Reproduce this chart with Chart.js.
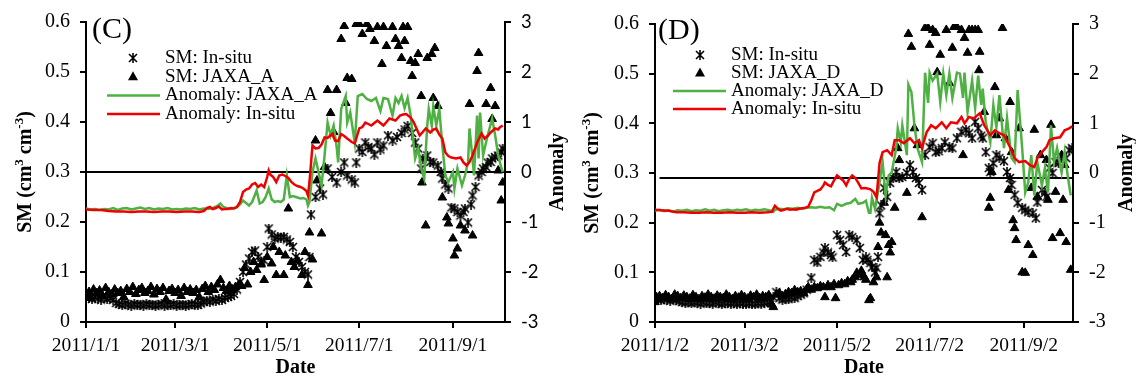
<!DOCTYPE html>
<html>
<head>
<meta charset="utf-8">
<script src="https://cdn.jsdelivr.net/npm/chart.js@4/dist/chart.umd.min.js"></script>
<style>
  body { margin: 0; background: #fff; }
  .wrap { display: flex; width: 1136px; height: 380px; }
  canvas { display: block; }
</style>
</head>
<body>
<div class="wrap">
  <canvas id="chartC" width="568" height="380"></canvas>
  <canvas id="chartD" width="568" height="380"></canvas>
</div>
<script>
// x values are day numbers counted from 2011/1/1 (= 0)

// ---------- panel (C) ----------
const tickDaysC = [0, 59, 120, 181, 243];
const tickLabelsC = ["2011/1/1", "2011/3/1", "2011/5/1", "2011/7/1", "2011/9/1"];
const namesC = ["SM: In-situ", "SM: JAXA_A", "Anomaly: JAXA_A", "Anomaly: In-situ"];
const zeroLineC = 0.3;

// [day, SM]
const insituC = [
  [0,0.05],[2,0.048],[4,0.046],[6,0.05],[8,0.047],[10,0.045],[12,0.049],[14,0.046],[16,0.048],[18,0.044],
  [20,0.038],[22,0.036],[24,0.034],[26,0.037],[28,0.035],[30,0.033],[32,0.036],[34,0.034],[36,0.035],[38,0.033],
  [40,0.036],[42,0.034],[44,0.035],[46,0.033],[48,0.034],[50,0.036],[52,0.033],[54,0.035],[56,0.034],[58,0.036],
  [60,0.033],[62,0.034],[64,0.035],[66,0.033],[68,0.034],[70,0.036],[72,0.035],[74,0.034],[76,0.037],
  [78,0.04],[80,0.043],[82,0.041],[84,0.045],[86,0.042],[88,0.046],[90,0.044],[92,0.048],[94,0.05],[96,0.052],
  [98,0.056],[100,0.065],[102,0.08],[104,0.1],[106,0.115],[108,0.127],[110,0.14],[112,0.143],[114,0.13],[116,0.12],
  [118,0.123],[120,0.15],[121,0.187],[123,0.175],[125,0.167],[127,0.17],[129,0.169],[131,0.17],[133,0.165],[135,0.16],
  [137,0.15],[139,0.13],[141,0.12],[143,0.11],[145,0.1],[147,0.095],[148,0.13],[149,0.215],[152,0.25],[155,0.267],
  [157,0.255],[160,0.307],[163,0.29],[166,0.279],[169,0.3],[171,0.319],[173,0.293],[176,0.285],[178,0.279],[179,0.319],
  [181,0.347],[183,0.34],[185,0.359],[187,0.35],[189,0.347],[191,0.335],[193,0.359],[195,0.345],[197,0.353],[200,0.373],
  [203,0.363],[206,0.37],[209,0.378],[211,0.385],[213,0.392],[216,0.378],[218,0.359],[220,0.347],[222,0.307],[223,0.327],
  [226,0.333],[228,0.32],[230,0.319],[233,0.313],[235,0.3],[236,0.287],[238,0.275],[240,0.267],[242,0.229],[244,0.227],
  [246,0.22],[248,0.213],[250,0.22],[251,0.227],[253,0.199],[255,0.235],[256,0.253],[258,0.27],[260,0.293],[262,0.3],
  [263,0.307],[265,0.31],[266,0.319],[268,0.32],[269,0.327],[271,0.33],[273,0.333],[275,0.34],[276,0.347]
];

const jaxaC = [
  [0,0.055],[2,0.06],[3,0.048],[5,0.065],[7,0.058],[9,0.063],[11,0.052],[13,0.068],[15,0.06],[17,0.055],
  [19,0.065],[21,0.058],[23,0.062],[25,0.05],[27,0.066],[29,0.06],[31,0.07],[33,0.056],[35,0.064],[37,0.068],
  [39,0.058],[41,0.062],[43,0.07],[45,0.055],[47,0.066],[49,0.06],[51,0.068],[53,0.045],[55,0.062],[57,0.066],
  [59,0.058],[61,0.064],[63,0.052],[65,0.068],[67,0.06],[69,0.065],[71,0.058],[73,0.064],[75,0.05],[77,0.066],
  [79,0.072],[81,0.06],[83,0.07],[85,0.064],[87,0.075],[89,0.084],[91,0.068],[93,0.062],[95,0.072],[97,0.065],
  [99,0.07],[101,0.074],[103,0.072],[105,0.108],[107,0.075],[109,0.1],[111,0.12],[113,0.104],[116,0.115],[118,0.084],
  [120,0.13],[123,0.117],[124,0.15],[126,0.094],[128,0.14],[131,0.094],[132,0.133],[134,0.227],[136,0.12],[138,0.11],
  [140,0.123],[143,0.094],[145,0.14],[147,0.074],[148,0.179],[150,0.125],[152,0.363],[153,0.283],[156,0.177],[158,0.31],
  [160,0.464],[162,0.418],[164,0.38],[166,0.464],[169,0.566],[171,0.592],[172,0.438],[173,0.488],[176,0.486],[179,0.596],
  [181,0.596],[183,0.576],[186,0.596],[188,0.586],[191,0.562],[193,0.59],[196,0.516],[197,0.59],[199,0.552],[203,0.59],
  [205,0.566],[207,0.552],[209,0.528],[210,0.59],[211,0.562],[213,0.59],[215,0.522],[216,0.492],[218,0.518],[220,0.536],
  [222,0.452],[222.5,0.279],[225,0.193],[226,0.528],[229,0.536],[230,0.448],[231,0.548],[233,0.432],[236,0.249],[239,0.209],
  [240,0.197],[243,0.167],[244,0.133],[246,0.147],[248,0.193],[251,0.183],[254,0.436],[256,0.173],[259,0.502],[260,0.538],
  [265,0.436],[268,0.468],[269,0.406],[271,0.432],[273,0.303],[275,0.243],[276,0.279]
];

// [day, anomaly]
const anomInsituC = [
  [0,-0.75],[5,-0.76],[10,-0.76],[15,-0.78],[20,-0.79],[25,-0.79],[30,-0.8],[35,-0.79],[40,-0.79],[45,-0.8],
  [50,-0.79],[55,-0.79],[60,-0.8],[65,-0.79],[70,-0.79],[75,-0.8],[78,-0.78],[80,-0.72],[82,-0.7],[84,-0.74],
  [86,-0.72],[88,-0.69],[90,-0.75],[92,-0.74],[94,-0.74],[96,-0.72],[98,-0.73],[100,-0.7],[102,-0.6],[104,-0.4],
  [106,-0.35],[108,-0.33],[110,-0.25],[112,-0.22],[114,-0.3],[116,-0.25],[118,-0.3],[120,-0.1],[121,0.03],[122,-0.05],
  [124,-0.1],[126,-0.2],[128,-0.07],[130,-0.05],[132,-0.08],[134,-0.12],[136,-0.2],[138,-0.25],[140,-0.28],[142,-0.3],
  [144,-0.33],[146,-0.38],[147,-0.47],[148,-0.2],[150,0.53],[152,0.47],[154,0.48],[156,0.55],[158,0.69],[160,0.68],
  [163,0.76],[165,0.63],[167,0.62],[169,0.76],[171,0.72],[173,0.67],[176,0.6],[178,0.57],[181,0.87],[183,0.9],
  [185,0.99],[187,0.96],[189,0.93],[191,0.98],[193,1.03],[195,0.98],[197,0.93],[199,1.0],[201,1.07],[203,1.05],
  [205,1.03],[208,1.13],[210,1.15],[212,1.16],[215,1.09],[217,1.0],[218,0.93],[221,0.73],[223,0.8],[225,0.87],
  [228,0.79],[230,0.85],[232,0.87],[234,0.75],[236,0.67],[238,0.39],[240,0.32],[242,0.29],[245,0.27],[248,0.29],
  [250,0.19],[252,0.13],[254,0.2],[256,0.33],[258,0.5],[259,0.59],[262,0.77],[264,0.67],[266,0.72],[268,0.79],
  [271,0.87],[273,0.85],[274,0.89],[276,0.93]
];

const anomJaxaC = [
  [0,-0.73],[3,-0.75],[6,-0.74],[9,-0.76],[12,-0.74],[15,-0.75],[18,-0.72],[21,-0.76],[24,-0.73],[27,-0.72],
  [30,-0.75],[33,-0.73],[36,-0.71],[39,-0.74],[42,-0.72],[45,-0.75],[48,-0.73],[51,-0.74],[54,-0.72],[57,-0.75],
  [60,-0.74],[63,-0.75],[66,-0.73],[69,-0.74],[72,-0.72],[75,-0.75],[78,-0.73],[81,-0.74],[84,-0.72],[87,-0.68],
  [89,-0.63],[91,-0.7],[93,-0.72],[96,-0.74],[98,-0.72],[100,-0.7],[102,-0.65],[104,-0.57],[106,-0.62],[108,-0.67],
  [110,-0.6],[112,-0.45],[113,-0.37],[115,-0.63],[117,-0.6],[119,-0.5],[121,-0.33],[123,-0.55],[125,-0.6],[127,-0.58],
  [129,-0.6],[131,-0.55],[133,-0.07],[135,-0.5],[137,-0.48],[139,-0.5],[142,-0.53],[144,-0.52],[146,-0.55],[147,-0.67],
  [148,-0.6],[150,0],[152,0.27],[154,0],[156,-0.27],[158,0.33],[160,0.99],[162,0.73],[164,0.93],[166,0.5],
  [167,0.19],[169,1.26],[172,1.52],[173,0.99],[175,1.19],[178,0.59],[180,1.52],[183,1.56],[186,1.46],[189,1.42],
  [192,1.48],[195,1.22],[197,1.48],[200,1.46],[203,1.13],[205,1.48],[207,1.38],[209,1.52],[211,1.28],[213,1.48],
  [215,1.13],[218,0.27],[220,0.47],[222,0.07],[224,-0.13],[226,0.93],[227,1.26],[229,0.93],[230,1.32],[232,0.93],
  [234,1.26],[236,0.53],[238,-0.07],[240,-0.2],[243,0],[244,-0.33],[246,0.07],[249,-0.27],[251,-0.07],[253,0.19],
  [254,0.87],[256,0.27],[257,-0.07],[259,1.13],[260,0.27],[261,1.19],[263,0.33],[266,0.73],[269,1.07],[271,0.73],
  [273,0.33],[275,0.09],[276,0]
];

// ---------- panel (D) ----------
const tickDaysD = [1, 60, 121, 182, 244];
const tickLabelsD = ["2011/1/2", "2011/3/2", "2011/5/2", "2011/7/2", "2011/9/2"];
const namesD = ["SM: In-situ", "SM: JAXA_D", "Anomaly: JAXA_D", "Anomaly: In-situ"];
const zeroLineD = 0.29;

const insituD = [
  [1,0.048],[3,0.046],[5,0.044],[7,0.047],[9,0.045],[11,0.043],[13,0.046],[15,0.044],[17,0.042],[19,0.04],
  [21,0.039],[23,0.041],[25,0.038],[27,0.04],[29,0.039],[31,0.037],[33,0.04],[35,0.038],[37,0.039],[39,0.037],
  [41,0.04],[43,0.038],[45,0.036],[47,0.039],[49,0.038],[51,0.037],[53,0.039],[55,0.036],[57,0.038],[59,0.037],
  [61,0.036],[63,0.038],[65,0.037],[67,0.036],[69,0.038],[71,0.037],[73,0.039],[75,0.04],[77,0.042],[79,0.05],
  [81,0.06],[83,0.048],[85,0.045],[87,0.047],[89,0.046],[91,0.05],[93,0.048],[95,0.052],[97,0.055],[99,0.058],
  [101,0.065],[104,0.089],[106,0.125],[108,0.12],[110,0.131],[112,0.14],[113,0.149],[115,0.14],[117,0.135],[118,0.13],
  [121,0.175],[123,0.165],[125,0.155],[127,0.141],[129,0.175],[131,0.171],[134,0.165],[136,0.149],[138,0.125],[140,0.13],
  [141,0.125],[143,0.119],[144,0.11],[146,0.1],[147,0.109],[148,0.131],[149,0.219],[150,0.235],[152,0.27],[154,0.252],
  [156,0.28],[158,0.29],[160,0.302],[162,0.29],[164,0.292],[167,0.3],[169,0.316],[171,0.302],[173,0.29],[175,0.28],
  [177,0.266],[179,0.336],[182,0.352],[184,0.36],[186,0.342],[188,0.344],[190,0.35],[192,0.362],[195,0.352],[197,0.35],
  [200,0.37],[203,0.383],[206,0.387],[208,0.38],[210,0.37],[212,0.403],[214,0.39],[216,0.375],[217,0.37],[219,0.342],
  [221,0.31],[222,0.302],[224,0.32],[226,0.336],[228,0.33],[231,0.324],[233,0.302],[235,0.29],[236,0.276],[238,0.256],
  [240,0.24],[243,0.23],[245,0.225],[247,0.221],[250,0.219],[252,0.209],[253,0.241],[256,0.266],[258,0.26],[259,0.252],
  [261,0.31],[263,0.3],[265,0.322],[267,0.32],[269,0.33],[272,0.33],[274,0.346],[276,0.35]
];

const jaxaD = [
  [1,0.04],[2,0.05],[4,0.052],[6,0.048],[8,0.054],[10,0.05],[12,0.046],[14,0.055],[16,0.052],[18,0.048],
  [20,0.053],[22,0.05],[24,0.047],[26,0.054],[28,0.05],[30,0.046],[32,0.052],[34,0.049],[36,0.055],[38,0.05],
  [40,0.047],[42,0.053],[44,0.05],[46,0.048],[48,0.055],[50,0.05],[52,0.046],[54,0.052],[56,0.049],[58,0.054],
  [60,0.05],[62,0.047],[64,0.053],[66,0.05],[68,0.055],[70,0.048],[72,0.052],[74,0.05],[76,0.054],[78,0.035],
  [79,0.03],[81,0.055],[83,0.058],[85,0.052],[87,0.056],[89,0.06],[91,0.058],[93,0.064],[95,0.06],[97,0.062],
  [99,0.058],[101,0.066],[102,0.07],[104,0.065],[106,0.07],[108,0.068],[110,0.072],[112,0.07],[113,0.05],[115,0.074],
  [117,0.07],[119,0.076],[120,0.048],[122,0.074],[124,0.078],[126,0.076],[128,0.082],[130,0.08],[131,0.085],[133,0.09],
  [134,0.099],[136,0.095],[137,0.103],[139,0.09],[140,0.085],[142,0.044],[143,0.048],[145,0.08],[147,0.09],[148,0.151],
  [149,0.2],[150,0.18],[152,0.24],[153,0.175],[154,0.09],[155,0.155],[156,0.14],[157,0.161],[159,0.23],[161,0.35],
  [162,0.326],[167,0.26],[168,0.58],[170,0.554],[172,0.39],[174,0.356],[177,0.211],[179,0.592],[181,0.592],[182,0.558],
  [184,0.588],[186,0.582],[187,0.503],[189,0.538],[193,0.588],[195,0.481],[197,0.552],[198,0.594],[200,0.594],[203,0.588],
  [204,0.336],[205,0.572],[207,0.542],[208,0.588],[210,0.588],[212,0.588],[214,0.588],[214.5,0.507],[215,0.544],[218,0.423],
  [221,0.23],[222,0.25],[223,0.302],[225,0.473],[226,0.376],[228,0.41],[230,0.592],[232,0.37],[234,0.266],[235,0.443],
  [236,0.342],[237,0.205],[238,0.189],[239,0.165],[241,0.39],[243,0.1],[245,0.099],[247,0.155],[249,0.27],[250,0.135],
  [251,0.387],[253,0.252],[255,0.336],[259,0.326],[260,0.246],[262,0.397],[263,0.169],[265,0.262],[268,0.179],[269,0.336],
  [270,0.246],[271,0.316],[272,0.161],[275,0.105]
];

const anomInsituD = [
  [1,-0.74],[5,-0.75],[10,-0.76],[15,-0.79],[20,-0.79],[25,-0.8],[30,-0.8],[35,-0.79],[40,-0.8],[45,-0.8],
  [50,-0.79],[55,-0.8],[60,-0.8],[65,-0.79],[70,-0.8],[75,-0.79],[78,-0.78],[80,-0.66],[82,-0.72],[84,-0.76],
  [86,-0.74],[88,-0.72],[90,-0.74],[92,-0.73],[94,-0.74],[96,-0.72],[98,-0.71],[100,-0.7],[102,-0.68],[104,-0.55],
  [106,-0.39],[108,-0.36],[110,-0.33],[112,-0.25],[113,-0.19],[115,-0.24],[117,-0.27],[119,-0.15],[121,-0.05],[123,-0.1],
  [125,-0.15],[127,-0.25],[129,-0.12],[131,-0.05],[133,-0.1],[135,-0.2],[137,-0.31],[139,-0.3],[141,-0.31],[143,-0.33],
  [145,-0.38],[147,-0.49],[149,0.2],[151,0.42],[154,0.46],[157,0.36],[159,0.66],[162,0.66],[165,0.6],[167,0.65],
  [169,0.7],[172,0.6],[175,0.66],[177,0.5],[180,0.82],[183,0.96],[186,0.9],[190,1.02],[193,0.9],[196,1.02],
  [200,1.0],[203,1.13],[205,1.0],[208,1.13],[211,1.1],[215,1.2],[218,0.96],[222,0.76],[225,0.86],[228,0.8],
  [231,0.76],[235,0.52],[238,0.3],[241,0.22],[245,0.24],[248,0.16],[251,0.12],[253,0.3],[256,0.42],[259,0.52],
  [261,0.66],[264,0.7],[268,0.72],[271,0.86],[274,0.9],[276,0.94]
];

const anomJaxaD = [
  [1,-0.76],[4,-0.74],[7,-0.77],[10,-0.75],[13,-0.78],[16,-0.75],[19,-0.76],[22,-0.74],[25,-0.77],[28,-0.75],
  [31,-0.76],[34,-0.73],[37,-0.76],[40,-0.74],[43,-0.77],[46,-0.75],[49,-0.74],[52,-0.76],[55,-0.74],[58,-0.75],
  [61,-0.73],[64,-0.76],[67,-0.74],[70,-0.75],[73,-0.73],[76,-0.75],[79,-0.78],[80,-0.74],[83,-0.72],[86,-0.73],
  [89,-0.71],[92,-0.72],[95,-0.7],[98,-0.72],[101,-0.7],[104,-0.69],[107,-0.7],[110,-0.68],[113,-0.7],[116,-0.69],
  [119,-0.75],[121,-0.62],[124,-0.66],[127,-0.62],[130,-0.6],[133,-0.52],[135,-0.62],[138,-0.6],[140,-0.56],[142,-0.8],
  [143,-0.8],[144,-0.5],[146,-0.72],[149,-0.19],[151,0.22],[153,-0.45],[155,-0.05],[157,0.01],[160,0.5],[161,0.9],
  [163,0.62],[164,0.96],[167,0.36],[168,1.78],[170,1.63],[172,0.96],[174,0.5],[177,0.22],[179,2.02],[181,1.41],
  [182,2.02],[184,1.86],[187,2.0],[189,1.43],[191,2.0],[193,1.57],[195,2.0],[197,1.51],[200,2.02],[202,2.0],
  [204,1.51],[205,2.02],[207,1.23],[210,1.86],[212,1.31],[214,1.96],[216,1.37],[217,1.7],[219,1.02],[222,0.62],
  [224,1.37],[226,0.92],[228,1.57],[230,0.86],[231,0.5],[233,1.11],[236,0.3],[238,0.22],[240,1.67],[243,0.5],
  [245,-0.39],[247,-0.19],[249,0.36],[251,-0.45],[253,0.22],[256,-0.25],[258,0.1],[260,-0.39],[262,0.96],[264,0.22],
  [266,0.5],[269,0.01],[271,0.42],[273,-0.05],[275,-0.45]
];

const SERIF = '"Liberation Serif", "Times New Roman", serif';
const GREEN = "#4fb043";
const RED = "#ee0000";

// excel style star marker (x + vertical bar)
const STAR = (() => {
  const c = document.createElement("canvas");
  c.width = 10; c.height = 10;
  const g = c.getContext("2d");
  g.strokeStyle = "#000";
  g.lineWidth = 1.6;
  g.beginPath();
  g.moveTo(1, 1); g.lineTo(9, 9);
  g.moveTo(9, 1); g.lineTo(1, 9);
  g.moveTo(5, 0); g.lineTo(5, 10);
  g.stroke();
  return c;
})();

function drawTri(ctx, x, y) {
  ctx.beginPath();
  ctx.moveTo(x, y - 5.5);
  ctx.lineTo(x + 5, y + 3.5);
  ctx.lineTo(x - 5, y + 3.5);
  ctx.closePath();
  ctx.fill();
}

// rotated (-90deg) title, parts = [text, isSup]
function drawVTitle(ctx, parts, cx, cy) {
  ctx.save();
  ctx.translate(cx, cy);
  ctx.rotate(-Math.PI / 2);
  ctx.textBaseline = "alphabetic";
  ctx.textAlign = "left";
  let total = 0;
  parts.forEach(([t, sup]) => {
    ctx.font = (sup ? "bold 13px " : "bold 20px ") + SERIF;
    total += ctx.measureText(t).width;
  });
  let x = -total / 2;
  parts.forEach(([t, sup]) => {
    ctx.font = (sup ? "bold 13px " : "bold 20px ") + SERIF;
    ctx.fillText(t, x, sup ? -1 : 7);
    x += ctx.measureText(t).width;
  });
  ctx.restore();
}

const decor = {
  id: "decor",
  afterDraw(chart, args, o) {
    const { ctx, chartArea: a } = chart;
    ctx.save();
    ctx.fillStyle = "#000";
    ctx.textAlign = "left";
    ctx.textBaseline = "alphabetic";
    ctx.font = "30px " + SERIF;
    ctx.fillText(o.panel, a.left + o.panelDx, o.panelY);

    // legend
    ctx.font = "19px " + SERIF;
    ctx.textBaseline = "middle";
    o.names.forEach((name, i) => {
      const y = a.top + o.legTop + i * o.legGap;
      if (i === 0) {
        ctx.drawImage(STAR, a.left + o.markX - 5, y - 5);
      } else if (i === 1) {
        drawTri(ctx, a.left + o.markX, y);
      } else {
        ctx.strokeStyle = i === 2 ? GREEN : RED;
        ctx.lineWidth = 2.5;
        ctx.beginPath();
        ctx.moveTo(a.left + o.lineX0, y);
        ctx.lineTo(a.left + o.lineX1, y);
        ctx.stroke();
      }
      ctx.fillText(name, a.left + o.textX, y);
    });

    const mid = (a.top + a.bottom) / 2;
    drawVTitle(ctx, [["SM (cm", false], ["3", true], [" cm", false], ["-3", true], [")", false]], o.leftTitleX, mid);
    drawVTitle(ctx, [["Anomaly", false]], o.rightTitleX, mid);
    ctx.restore();
  }
};

function buildChart(el, p) {
  const xy = (pairs) => pairs.map(([d, v]) => ({ x: d, y: v }));
  const axisGrid = { drawOnChartArea: false, color: "#000", lineWidth: 2, tickLength: 6 };
  const axisBorder = { color: "#000", width: 2 };
  return new Chart(el, {
    type: "line",
    data: {
      datasets: [
        { label: p.names[3], data: xy(p.anomInsitu), yAxisID: "y2", borderColor: RED, borderWidth: 2.5, pointRadius: 0, order: 0 },
        { label: p.names[2], data: xy(p.anomJaxa), yAxisID: "y2", borderColor: GREEN, borderWidth: 2.5, pointRadius: 0, order: 1 },
        { label: "zero", data: [{ x: p.zeroFrom, y: p.zeroLine }, { x: p.xMax, y: p.zeroLine }], yAxisID: "y",
          borderColor: "#000", borderWidth: 2, pointRadius: 0, order: 2 },
        { label: p.names[0], data: xy(p.insitu), yAxisID: "y", showLine: false, pointStyle: STAR, pointRadius: 5, order: 3 },
        { label: p.names[1], data: xy(p.jaxa), yAxisID: "y", showLine: false, pointStyle: "triangle", pointRadius: 5,
          pointBackgroundColor: "#000", pointBorderColor: "#000", pointBorderWidth: 1, order: 4 }
      ]
    },
    options: {
      responsive: false,
      animation: false,
      events: [],
      devicePixelRatio: 1,
      layout: { padding: { top: p.top, left: 0, right: 0, bottom: 0 } },
      plugins: {
        legend: { display: false },
        tooltip: { enabled: false },
        decor: p.decor
      },
      scales: {
        x: {
          type: "linear", min: p.xMin, max: p.xMax,
          afterBuildTicks: (s) => { s.ticks = p.tickDays.map((v) => ({ value: v })); },
          afterFit: (s) => { s.height = 58; },
          grid: axisGrid, border: axisBorder,
          ticks: { autoSkip: false, maxRotation: 0, padding: 6, color: "#000",
            font: { family: SERIF, size: 19.5 }, callback: (v, i) => p.tickLabels[i] },
          title: { display: true, text: "Date", color: "#000",
            font: { family: SERIF, size: 20, weight: "bold" }, padding: { top: 0, bottom: 0 } }
        },
        y: {
          position: "left", min: 0, max: 0.6,
          afterFit: (s) => { s.width = p.leftW; },
          grid: axisGrid, border: axisBorder,
          ticks: { stepSize: 0.1, padding: 10, color: "#000", font: { family: SERIF, size: 20 },
            callback: (v) => (v === 0 ? "0" : v.toFixed(1)) }
        },
        y2: {
          position: "right", min: -3, max: 3,
          afterFit: (s) => { s.width = 63; },
          grid: axisGrid, border: axisBorder,
          ticks: { stepSize: 1, padding: 10, color: "#000", font: p.rightFont,
            callback: (v) => String(v) }
        }
      }
    },
    plugins: [decor]
  });
}

buildChart(document.getElementById("chartC"), {
  insitu: insituC, jaxa: jaxaC, anomInsitu: anomInsituC, anomJaxa: anomJaxaC,
  names: namesC, tickDays: tickDaysC, tickLabels: tickLabelsC,
  xMin: 0, xMax: 277.5, zeroFrom: 0, zeroLine: zeroLineC,
  top: 21, leftW: 86,
  rightFont: { family: "Lato, 'Open Sans', sans-serif", size: 18.5 },
  decor: { panel: "(C)", panelDx: 6, panelY: 38, names: namesC,
    legTop: 36, legGap: 18.7, markX: 47, textX: 79, lineX0: 21, lineX1: 74,
    leftTitleX: 24, rightTitleX: 556 }
});

buildChart(document.getElementById("chartD"), {
  insitu: insituD, jaxa: jaxaD, anomInsitu: anomInsituD, anomJaxa: anomJaxaD,
  names: namesD, tickDays: tickDaysD, tickLabels: tickLabelsD,
  xMin: 1, xMax: 276.5, zeroFrom: 4, zeroLine: zeroLineD,
  top: 24, leftW: 87,
  rightFont: { family: SERIF, size: 20 },
  decor: { panel: "(D)", panelDx: 3, panelY: 39, names: namesD,
    legTop: 31, legGap: 18, markX: 45, textX: 76, lineX0: 18, lineX1: 71,
    leftTitleX: 23, rightTitleX: 557 }
});
</script>
</body>
</html>
